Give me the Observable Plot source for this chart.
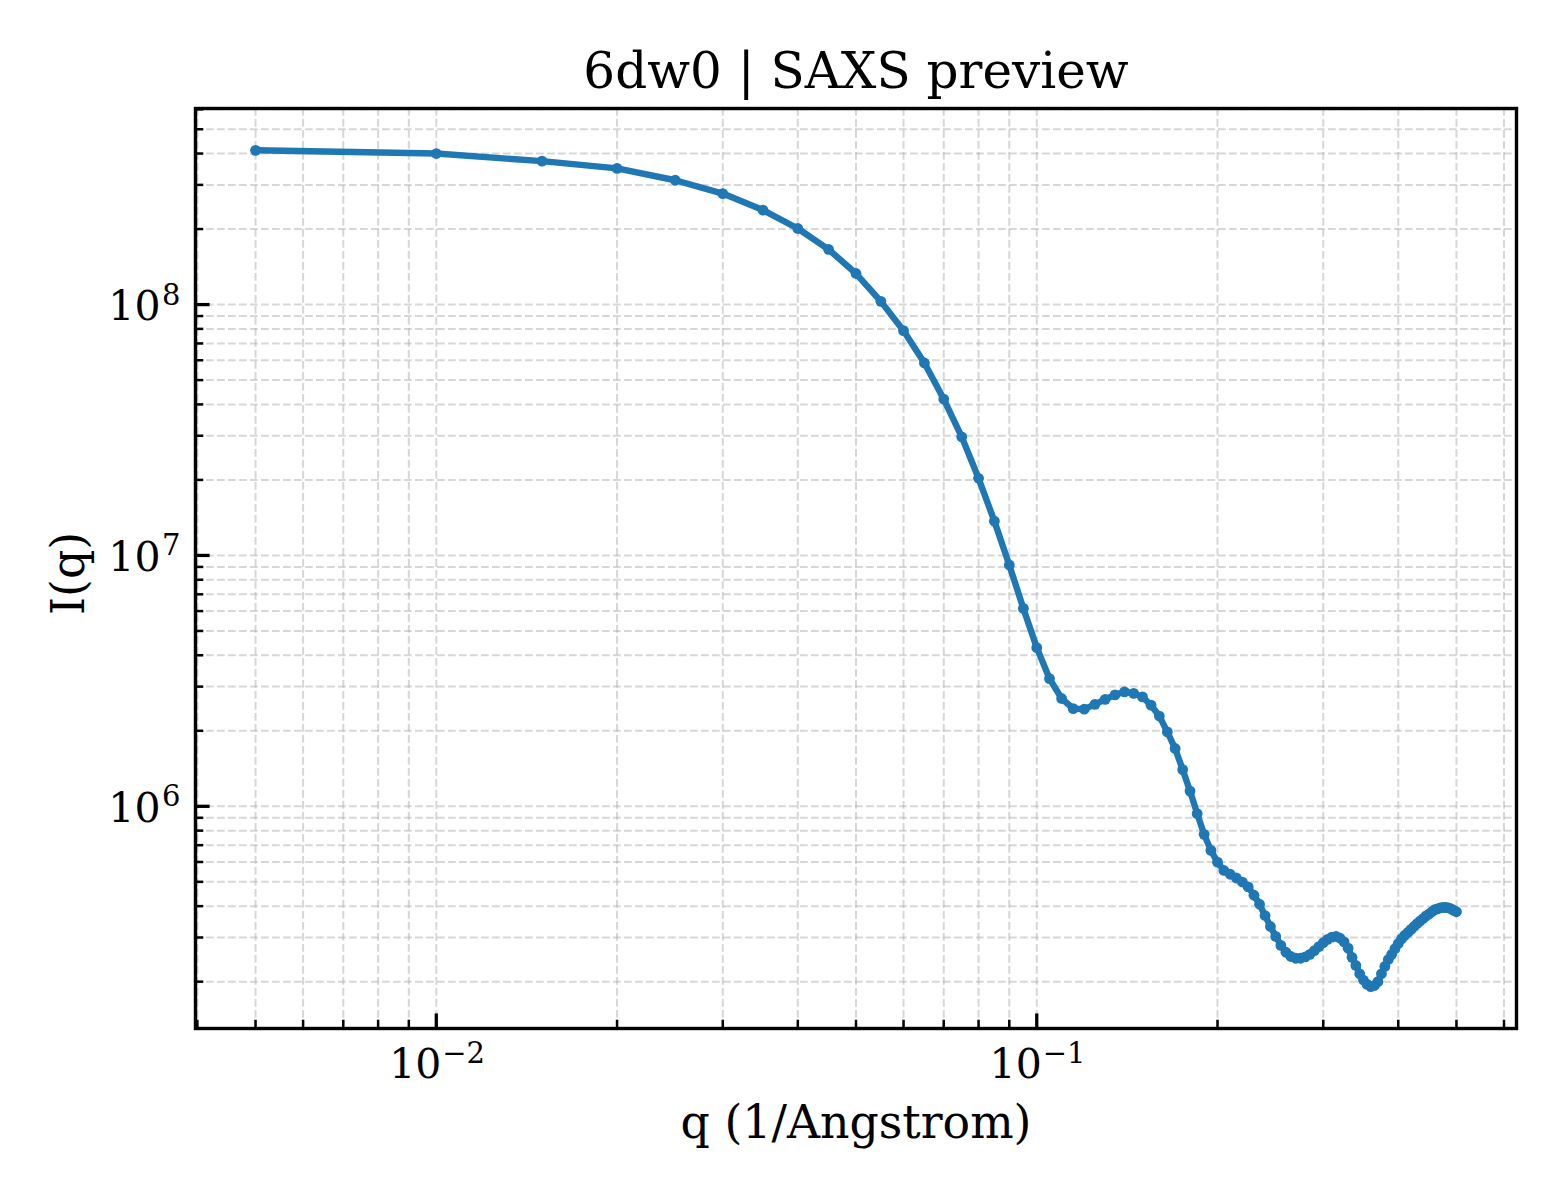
<!DOCTYPE html>
<html>
<head>
<meta charset="utf-8">
<script src="https://cdn.jsdelivr.net/npm/d3@7"></script>
<script src="https://cdn.jsdelivr.net/npm/@observablehq/plot@0.6"></script>
<style>
  html, body { margin: 0; padding: 0; background: white; }
  #chart svg { display: block; }
</style>
</head>
<body>
<div id="chart"></div>
<script>
// ---- data ----
const qValues = [
  0.005, 0.010, 0.015, 0.020, 0.025, 0.030, 0.035, 0.040, 0.045, 0.050,
  0.055, 0.060, 0.065, 0.070, 0.075, 0.080, 0.085, 0.090, 0.095, 0.100,
  0.105, 0.110, 0.115, 0.120, 0.125, 0.130, 0.135, 0.140, 0.145, 0.150,
  0.155, 0.160, 0.165, 0.170, 0.175, 0.180, 0.185, 0.190, 0.195, 0.200,
  0.205, 0.210, 0.215, 0.220, 0.225, 0.230, 0.235, 0.240, 0.245, 0.250,
  0.255, 0.260, 0.265, 0.270, 0.275, 0.280, 0.285, 0.290, 0.295, 0.300,
  0.305, 0.310, 0.315, 0.320, 0.325, 0.330, 0.335, 0.340, 0.345, 0.350,
  0.355, 0.360, 0.365, 0.370, 0.375, 0.380, 0.385, 0.390, 0.395, 0.400,
  0.405, 0.410, 0.415, 0.420, 0.425, 0.430, 0.435, 0.440, 0.445, 0.450,
  0.455, 0.460, 0.465, 0.470, 0.475, 0.480, 0.485, 0.490, 0.495, 0.500
];
const intensity = [
  4.12e8, 4.00e8, 3.73e8, 3.49e8, 3.13e8, 2.77e8, 2.38e8, 2.01e8, 1.66e8, 1.33e8,
  1.03e8, 7.87e7, 5.85e7, 4.20e7, 2.97e7, 2.03e7, 1.37e7, 9.16e6, 6.15e6, 4.29e6,
  3.23e6, 2.69e6, 2.45e6, 2.44e6, 2.55e6, 2.67e6, 2.78e6, 2.86e6, 2.82e6, 2.73e6,
  2.53e6, 2.29e6, 1.98e6, 1.70e6, 1.40e6, 1.15e6, 9.35e5, 7.73e5, 6.67e5, 5.99e5,
  5.55e5, 5.36e5, 5.18e5, 4.99e5, 4.77e5, 4.42e5, 4.07e5, 3.67e5, 3.32e5, 3.03e5,
  2.79e5, 2.62e5, 2.52e5, 2.48e5, 2.48e5, 2.51e5, 2.57e5, 2.66e5, 2.76e5, 2.86e5,
  2.95e5, 3.01e5, 3.03e5, 2.98e5, 2.88e5, 2.72e5, 2.50e5, 2.32e5, 2.15e5, 2.03e5,
  1.95e5, 1.91e5, 1.93e5, 2.00e5, 2.15e5, 2.30e5, 2.45e5, 2.57e5, 2.71e5, 2.84e5,
  2.96e5, 3.06e5, 3.14e5, 3.23e5, 3.32e5, 3.41e5, 3.49e5, 3.57e5, 3.66e5, 3.72e5,
  3.80e5, 3.87e5, 3.90e5, 3.94e5, 3.95e5, 3.95e5, 3.94e5, 3.90e5, 3.85e5, 3.80e5
];

const xMajorTicks = [0.01, 0.1];
const xMajorExponents = ["\u22122", "\u22121"];
const xMinorTicks = [0.004, 0.005, 0.006, 0.007, 0.008, 0.009,
                     0.02, 0.03, 0.04, 0.05, 0.06, 0.07, 0.08, 0.09,
                     0.2, 0.3, 0.4, 0.5, 0.6];
const yMajorTicks = [1e6, 1e7, 1e8];
const yMajorExponents = ["6", "7", "8"];
const yMinorTicks = [2e5, 3e5, 4e5, 5e5, 6e5, 7e5, 8e5, 9e5,
                     2e6, 3e6, 4e6, 5e6, 6e6, 7e6, 8e6, 9e6,
                     2e7, 3e7, 4e7, 5e7, 6e7, 7e7, 8e7, 9e7,
                     2e8, 3e8, 4e8, 5e8, 6e8];

const titleText = "6dw0 | SAXS preview";
const xLabelText = "q (1/Angstrom)";
const yLabelText = "I(q)";

// ---- build ----
const rows = qValues.map((q, i) => ({q, I: intensity[i]}));

function logDomain(vals) {
  const lo = Math.log10(d3.min(vals)), hi = Math.log10(d3.max(vals));
  const m = (hi - lo) * 0.05;
  return [Math.pow(10, lo - m), Math.pow(10, hi + m)];
}

const W = 1560, H = 1200;
const mL = 195, mR = 44, mT = 108, mB = 172;
const frameW = W - mL - mR, frameH = H - mT - mB;
const majorLen = 14.6, minorLen = 8.3;
const tickFont = 41, supFont = 29, labelFont = 45.8, titleFont = 50;
const gridStyle = {stroke: "#b0b0b0", strokeOpacity: 0.5, strokeWidth: 2, strokeDasharray: "7.7,3.3"};
const blue = "#1f77b4";

const chart = Plot.plot({
  width: W,
  height: H,
  marginLeft: mL,
  marginRight: mR,
  marginTop: mT,
  marginBottom: mB,
  style: {fontFamily: "'DejaVu Serif', serif", background: "white", color: "black"},
  x: {type: "log", domain: logDomain(qValues), axis: null},
  y: {type: "log", domain: logDomain(intensity), axis: null},
  marks: [
    Plot.gridX(xMinorTicks.concat(xMajorTicks), gridStyle),
    Plot.gridY(yMinorTicks.concat(yMajorTicks), gridStyle),
    Plot.line(rows, {x: "q", y: "I", stroke: blue, strokeWidth: 6.4, strokeLinejoin: "round", strokeLinecap: "round"}),
    Plot.dot(rows, {x: "q", y: "I", r: 5.4, fill: blue, stroke: null}),
    Plot.frame({stroke: "black", strokeWidth: 3.4}),
    // inward ticks
    Plot.ruleX(xMajorTicks, {x: d => d, insetTop: frameH - majorLen, stroke: "black", strokeWidth: 3.3}),
    Plot.ruleX(xMinorTicks, {x: d => d, insetTop: frameH - minorLen, stroke: "black", strokeWidth: 2.5}),
    Plot.ruleY(yMajorTicks, {y: d => d, insetRight: frameW - majorLen, stroke: "black", strokeWidth: 3.3}),
    Plot.ruleY(yMinorTicks, {y: d => d, insetRight: frameW - minorLen, stroke: "black", strokeWidth: 2.5}),
    // x tick labels: 10^k
    Plot.text(xMajorTicks, {x: d => d, text: () => "10", frameAnchor: "bottom", textAnchor: "end",
      lineAnchor: "bottom", dx: 5, dy: 49.5, fontSize: tickFont, fill: "black"}),
    Plot.text(xMajorTicks, {x: d => d, text: (d, i) => xMajorExponents[i], frameAnchor: "bottom", textAnchor: "start",
      lineAnchor: "bottom", dx: 6, dy: 34.5, fontSize: supFont, fill: "black"}),
    // y tick labels: 10^k
    Plot.text(yMajorTicks, {y: d => d, text: () => "10", frameAnchor: "left", textAnchor: "end",
      lineAnchor: "bottom", dx: -35, dy: 15.7, fontSize: tickFont, fill: "black"}),
    Plot.text(yMajorTicks, {y: d => d, text: (d, i) => yMajorExponents[i], frameAnchor: "left", textAnchor: "end",
      lineAnchor: "bottom", dx: -15, dy: 0, fontSize: supFont, fill: "black"}),
    // title and axis labels
    Plot.text([titleText], {text: d => d, frameAnchor: "top", textAnchor: "middle", lineAnchor: "bottom", dy: 87 - mT,
      fontSize: titleFont, fill: "black"}),
    Plot.text([xLabelText], {text: d => d, frameAnchor: "bottom", textAnchor: "middle", lineAnchor: "bottom", dy: 109.5,
      fontSize: labelFont, fill: "black"}),
    Plot.text([yLabelText], {text: d => d, frameAnchor: "left", textAnchor: "middle", lineAnchor: "bottom", rotate: -90,
      dx: 83 - mL, dy: 5, fontSize: labelFont, fill: "black"})
  ]
});

document.getElementById("chart").appendChild(chart);
</script>
</body>
</html>
